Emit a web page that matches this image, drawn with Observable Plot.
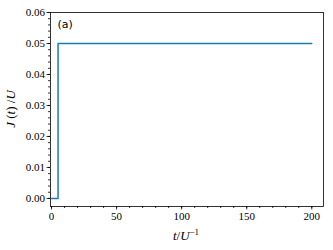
<!DOCTYPE html>
<html><head><meta charset="utf-8">
<script src="https://cdn.jsdelivr.net/npm/d3@7"></script>
<script src="https://cdn.jsdelivr.net/npm/@observablehq/plot@0.6"></script>
<style>body{margin:0;background:#fff} svg text{font-family:"Liberation Serif",serif}</style>
</head><body><div id="chart"></div>
<script>
const times = [0, 5, 5, 200];
const current = [0, 0, 0.05, 0.05];
const xTicks = [0, 50, 100, 150, 200];
const yTicks = [0, 0.01, 0.02, 0.03, 0.04, 0.05, 0.06];
const xMinor = d3.range(0, 210, 10);
const yMinor = d3.range(0, 0.0601, 0.002);
const data = times.map((t, i) => ({t, j: current[i]}));
const serif = "Liberation Serif, serif";
const chart = Plot.plot({
  width: 333, height: 250,
  marginLeft: 50, marginRight: 10, marginTop: 12, marginBottom: 44,
  style: {fontFamily: serif, fontSize: "11px", color: "#000", background: "#fff"},
  x: {domain: [-0.8, 209], ticks: xTicks},
  y: {domain: [-0.0026, 0.06], ticks: yTicks},
  marks: [
    Plot.axisX({ticks: xMinor, tickSize: 2, text: null, label: null, strokeWidth: 0.8}),
    Plot.axisX({ticks: xTicks, tickSize: 3.5, tickPadding: 2, label: null, fontSize: 11, strokeWidth: 0.8}),
    Plot.axisY({ticks: yMinor, tickSize: 2, text: null, label: null, strokeWidth: 0.8}),
    Plot.axisY({ticks: yTicks, tickSize: 3.5, tickPadding: 2, tickFormat: d3.format(".2f"), label: null, fontSize: 11, strokeWidth: 0.8}),
    Plot.line(data, {x: "t", y: "j", stroke: "#1f77b4", strokeWidth: 1.5}),
    Plot.frame({stroke: "#000", strokeWidth: 0.8}),
    Plot.text(["(a)"], {frameAnchor: "top-left", dx: 7, dy: 8, text: d => d, fontSize: 11, textAnchor: "start", lineAnchor: "top"})
  ]
});
const svg = d3.select(chart);
svg.selectAll("g[aria-label='text'] text").style("font-family", "DejaVu Sans, sans-serif");
const xl = svg.append("text").attr("x", 186).attr("y", 240).attr("text-anchor", "middle")
  .attr("font-size", 13).attr("fill", "#000").style("font-family", "Liberation Serif, serif");
xl.append("tspan").attr("font-style", "italic").text("t");
xl.append("tspan").text("/");
xl.append("tspan").attr("font-style", "italic").text("U");
xl.append("tspan").attr("font-size", 9).attr("dy", -5).text("−1");
const yl = svg.append("text").attr("transform", "translate(15,109) rotate(-90)").attr("text-anchor", "middle")
  .attr("font-size", 13).attr("fill", "#000").style("font-family", "Liberation Serif, serif");
yl.append("tspan").attr("font-style", "italic").text("J");
yl.append("tspan").text(" (");
yl.append("tspan").attr("font-style", "italic").text("t");
yl.append("tspan").text(") /");
yl.append("tspan").attr("font-style", "italic").text("U");
document.getElementById("chart").append(chart);
</script>
</body></html>
